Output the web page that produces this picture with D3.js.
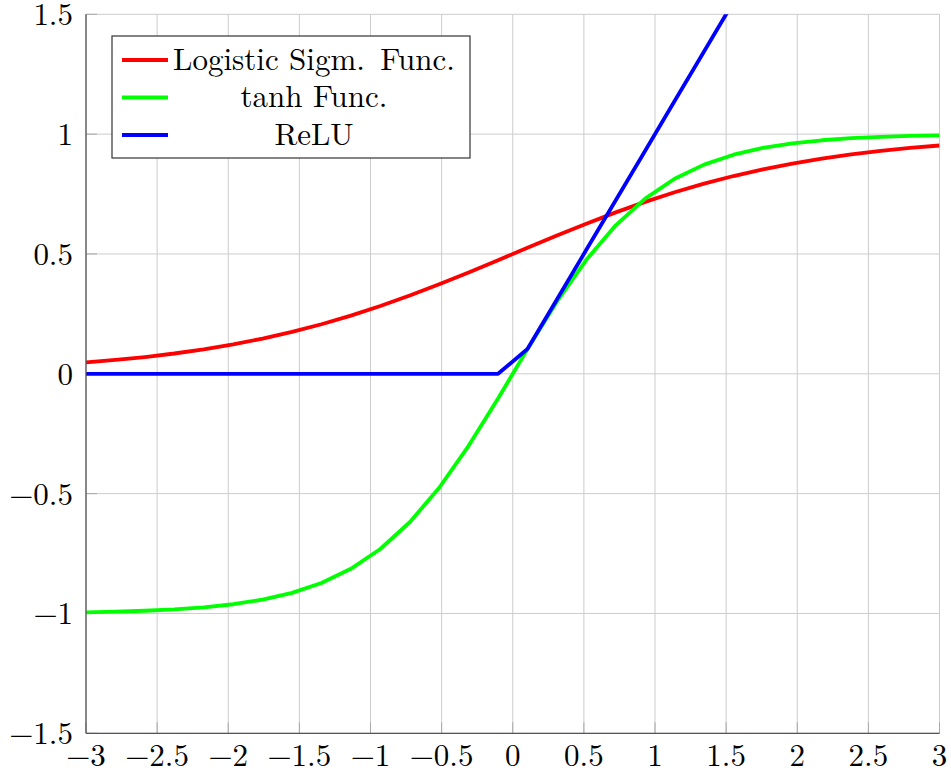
<!DOCTYPE html>
<html><head><meta charset="utf-8">
<script src="https://cdn.jsdelivr.net/npm/d3@7"></script>
<style>body{margin:0;background:#fff}svg{display:block}</style>
</head><body>
<svg id="c" width="951" height="773"></svg>
<script>
const xs = [-3,-2.7931,-2.5862,-2.3793,-2.1724,-1.9655,-1.7586,-1.5517,-1.3448,-1.1379,-0.9310,-0.7241,-0.5172,-0.3103,-0.1034,0.1034,0.3103,0.5172,0.7241,0.9310,1.1379,1.3448,1.5517,1.7586,1.9655,2.1724,2.3793,2.5862,2.7931,3];
const sigmoid = [0.0474,0.0577,0.0700,0.0847,0.1023,0.1229,0.1470,0.1748,0.2067,0.2427,0.2827,0.3265,0.3735,0.4230,0.4742,0.5258,0.5770,0.6265,0.6735,0.7173,0.7573,0.7933,0.8252,0.8530,0.8771,0.8977,0.9153,0.9300,0.9423,0.9526];
const tanhV = [-0.9951,-0.9925,-0.9887,-0.9830,-0.9744,-0.9615,-0.9424,-0.9141,-0.8728,-0.8137,-0.7311,-0.6194,-0.4755,-0.3007,-0.1030,0.1030,0.3007,0.4755,0.6194,0.7311,0.8137,0.8728,0.9141,0.9424,0.9615,0.9744,0.9830,0.9887,0.9925,0.9951];
const relu = [0,0,0,0,0,0,0,0,0,0,0,0,0,0,0,0.1034,0.3103,0.5172,0.7241,0.9310,1.1379,1.3448,1.5517,1.7586,1.9655,2.1724,2.3793,2.5862,2.7931,3];
const xTicks = [-3,-2.5,-2,-1.5,-1,-0.5,0,0.5,1,1.5,2,2.5,3];
const yTicks = [-1.5,-1,-0.5,0,0.5,1,1.5];
const seriesNames = ["Logistic Sigm.\u2002Func.","tanh Func.","ReLU"];
const seriesColors = ["#ff0000","#00ff00","#0000ff"];
const seriesData = [sigmoid, tanhV, relu];
const FONT = '"Latin Modern Roman", "Liberation Serif", serif';
const FS = 31;

const svg = d3.select("#c");
const L=86, R=939.5, T=14.3, B=733.3;
const x = d3.scaleLinear().domain([-3,3]).range([L,R]);
const y = d3.scaleLinear().domain([-1.5,1.5]).range([B,T]);
const fmt = v => String(v).replace("-","\u2212");

// grid
const g = svg.append("g");
g.selectAll("line.gx").data(xTicks).join("line").attr("class","gx").attr("x1",d=>x(d)).attr("x2",d=>x(d)).attr("y1",T).attr("y2",B).attr("stroke","#cccccc").attr("stroke-width",1);
g.selectAll("line.gy").data(yTicks).join("line").attr("class","gy").attr("y1",d=>y(d)).attr("y2",d=>y(d)).attr("x1",L).attr("x2",R).attr("stroke","#cccccc").attr("stroke-width",1);
// inner ticks
const gt = svg.append("g");
gt.selectAll("line.tx").data(xTicks).join("line").attr("class","tx").attr("x1",d=>x(d)).attr("x2",d=>x(d)).attr("y1",B).attr("y2",B-11).attr("stroke","#a8a8a8").attr("stroke-width",1);
gt.selectAll("line.ty").data(yTicks).join("line").attr("class","ty").attr("y1",d=>y(d)).attr("y2",d=>y(d)).attr("x1",L).attr("x2",L+11).attr("stroke","#a8a8a8").attr("stroke-width",1);

// curves
svg.append("clipPath").attr("id","clip").append("rect").attr("x",L).attr("y",T).attr("width",R-L).attr("height",B-T);
const line = d3.line().x((d,i)=>x(xs[i])).y(d=>y(d));
const cg = svg.append("g").attr("clip-path","url(#clip)");
seriesData.forEach((s,k)=>{
  cg.append("path").attr("d",line(s)).attr("fill","none").attr("stroke",seriesColors[k]).attr("stroke-width",3.8).attr("stroke-linejoin","round");
});

// axis lines
svg.append("line").attr("x1",L).attr("x2",L).attr("y1",T).attr("y2",B).attr("stroke","#555").attr("stroke-width",1.3);
svg.append("line").attr("x1",L).attr("x2",R).attr("y1",B).attr("y2",B).attr("stroke","#555").attr("stroke-width",1.3);

// tick labels
const gl = svg.append("g");
gl.selectAll("text.xl").data(xTicks).join("text").attr("class","xl").attr("x",d=>x(d)).attr("y",766).attr("text-anchor","middle").attr("font-size",FS).style("font-family",FONT).text(fmt);
gl.selectAll("text.yl").data(yTicks).join("text").attr("class","yl").attr("x",73).attr("y",d=>y(d)+11).attr("text-anchor","end").attr("font-size",FS).style("font-family",FONT).text(fmt);

// legend
const lg = svg.append("g");
lg.append("rect").attr("x",112).attr("y",36).attr("width",358).attr("height",122).attr("fill","#fff").attr("stroke","#333").attr("stroke-width",1.2);
seriesNames.forEach((n,k)=>{
  const yy = 60 + k*37.5;
  lg.append("line").attr("x1",122).attr("x2",168).attr("y1",yy).attr("y2",yy).attr("stroke",seriesColors[k]).attr("stroke-width",3.8);
  lg.append("text").attr("x",314).attr("y",yy+9.5).attr("text-anchor","middle").attr("font-size",FS).style("font-family",FONT).text(n);
});
</script>
</body></html>
